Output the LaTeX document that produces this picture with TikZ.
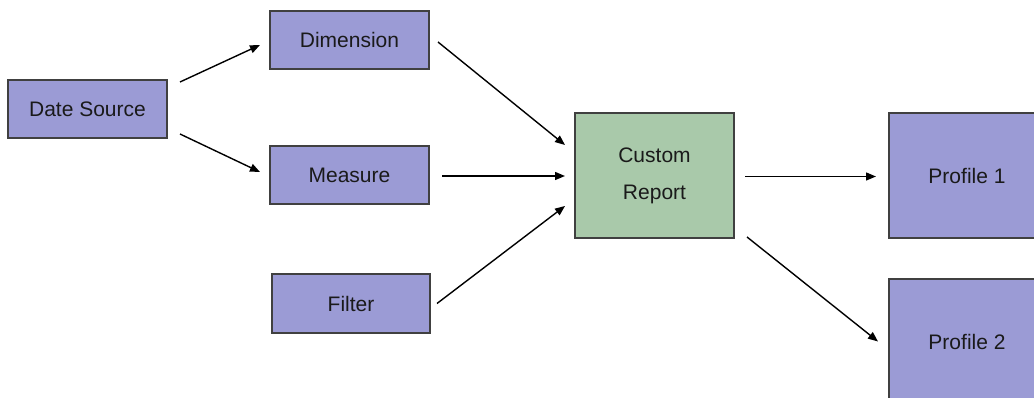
\documentclass[tikz,border=0pt]{standalone}
\usepackage{fontspec}
\setmainfont{Liberation Sans}
\usetikzlibrary{calc,arrows.meta}
\definecolor{boxblue}{RGB}{155,155,213}
\definecolor{boxgreen}{RGB}{169,201,170}
\definecolor{boxline}{RGB}{64,64,64}
\definecolor{txt}{RGB}{26,26,26}
\tikzset{
  block/.style={draw=boxline, line width=1.6pt, fill=boxblue, outer sep=0pt,
    inner sep=0pt, text=txt, font=\fontsize{21}{37}\selectfont, align=center},
  greenblock/.style={block, fill=boxgreen},
  link/.style={draw=black, line width=1.4pt,
    -{Triangle[length=10pt,width=8pt]}}
}
\begin{document}
\begin{tikzpicture}[x=1pt,y=-1pt]
\clip (0,0) rectangle (1034,398);
\fill[white] (0,0) rectangle (1034,398);

\node[block, minimum width=159pt, minimum height=58pt] (ds)   at (87.5,109)   {Date Source};
\node[block, minimum width=159pt, minimum height=58pt] (dim)  at (349.5,40)   {Dimension};
\node[block, minimum width=159pt, minimum height=58pt] (meas) at (349.5,175)  {Measure};
\node[block, minimum width=158pt, minimum height=59pt] (filt) at (351,303.5)  {Filter};
\node[greenblock, minimum width=159pt, minimum height=125pt] (cr) at (654.5,175.5) {Custom\\Report};
\node[block, minimum width=156pt, minimum height=125pt] (p1) at (967,175.5) {Profile 1};
\node[block, minimum width=156pt, minimum height=125pt] (p2) at (967,341.5) {Profile 2};

\draw[link] ($(ds.north east)+(13,2)$)  -- ($(dim.west)+(-10,5)$);
\draw[link] ($(ds.south east)+(13,-4)$) -- ($(meas.west)+(-10,-3)$);
\draw[link] ($(dim.east)+(9,2)$)        -- ($(cr.north west)+(-10,32)$);
\draw[link] ($(meas.east)+(13,1)$)      -- ($(cr.west)+(-10,0.5)$);
\draw[link] ($(filt.east)+(7,0)$)       -- ($(cr.south west)+(-10,-32)$);
\draw[link] ($(cr.east)+(11,1)$)        -- ($(p1.west)+(-13,1)$);
\draw[link] ($(cr.south east)+(13,-1)$) -- ($(p2.west)+(-11,0)$);
\end{tikzpicture}
\end{document}
